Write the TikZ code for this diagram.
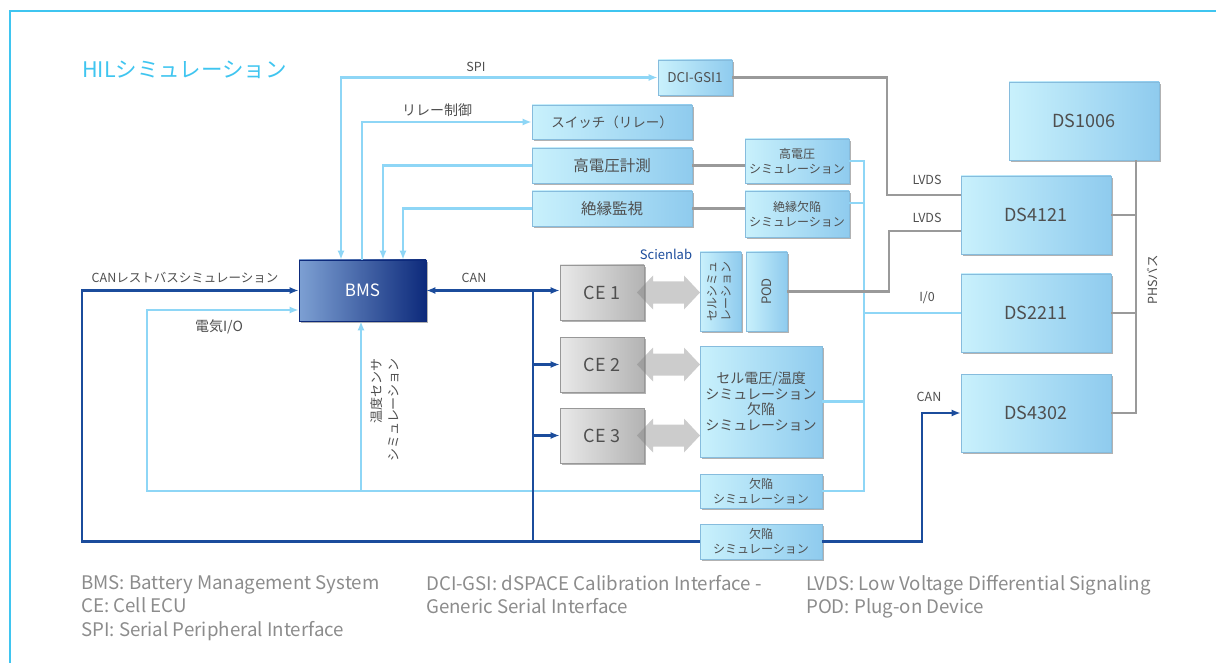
\documentclass[tikz,border=0pt]{standalone}
\usepackage{fontspec}
\setmainfont{Noto Sans CJK JP}
\usetikzlibrary{arrows.meta,shadows,positioning}

\definecolor{framecyan}{HTML}{3FC5F0}
\definecolor{lineblue}{HTML}{8ED6F6}
\definecolor{linegray}{HTML}{9A9A9A}
\definecolor{candark}{HTML}{1B4C9C}
\definecolor{boxa}{HTML}{C9F1FC}
\definecolor{boxb}{HTML}{8FCBEE}
\definecolor{boxedge}{HTML}{86BCDD}
\definecolor{bmsa}{HTML}{7DA0D3}
\definecolor{bmsb}{HTML}{0D2A7B}
\definecolor{cea}{HTML}{E9E9E9}
\definecolor{ceb}{HTML}{B3B3B3}
\definecolor{txtgray}{HTML}{4F4F4F}
\definecolor{legendgray}{HTML}{8C8C8C}

\newcommand{\fsz}[2]{\fontsize{#1}{#2}\selectfont}

\tikzset{
  dsbox/.style={draw=boxedge, line width=0.6pt, left color=boxa, right color=boxb,
    drop shadow={shadow xshift=1.5pt, shadow yshift=-2pt, opacity=0.3, fill=black},
    text=txtgray, inner sep=0pt, align=center, font=\fsz{14}{16}},
  bmsbox/.style={dsbox, draw=bmsb, left color=bmsa, right color=bmsb, text=white},
  cebox/.style={dsbox, draw=ceb!85!black, left color=cea, right color=ceb},
  lb/.style={draw=lineblue, line width=2.7pt},
  gl/.style={draw=linegray, line width=2.1pt},
  db/.style={draw=candark, line width=2.5pt},
  lbl/.style={text=txtgray, font=\fsz{12.5}{14}, inner sep=0pt},
  legend/.style={text=legendgray, font=\fsz{18.7}{23.5}, align=left, anchor=north west, inner sep=0pt},
  cellarrow/.style={fill=black!50, opacity=0.4},
  >={Latex[length=9pt,width=7pt]}
}

\begin{document}
\begin{tikzpicture}[x=1pt,y=-1pt]
\useasboundingbox (0,0) rectangle (1216,663);
\fill[white] (0,0) rectangle (1216,663);

\draw[framecyan, line width=2.4pt] (1216,11) -- (10,11) -- (10,663);
\node[text=framecyan, font=\fsz{21.5}{24}, anchor=west, inner sep=0pt] (title) at (82,70) {HILシミュレーション};

% boxes
\node[dsbox, minimum width=74pt, minimum height=35pt, font=\fsz{13.5}{16}] (dci) at (695,77.5) {DCI-GSI1};
\node[dsbox, minimum width=160pt, minimum height=34pt, font=\fsz{13.5}{16}] (sw) at (612,122) {スイッチ（リレー）};
\node[dsbox, minimum width=160pt, minimum height=35pt, font=\fsz{15.5}{18}] (hvm) at (612,165.5) {高電圧計測};
\node[dsbox, minimum width=160pt, minimum height=35pt, font=\fsz{15.5}{18}] (iso) at (612,208.5) {絶縁監視};
\node[dsbox, minimum width=104pt, minimum height=44pt, font=\fsz{12}{15}] (hvs) at (797,161) {高電圧\\シミュレーション};
\node[dsbox, minimum width=104pt, minimum height=46pt, font=\fsz{12}{15}] (isf) at (797,214) {絶縁欠陥\\シミュレーション};

\node[dsbox, minimum width=150pt, minimum height=78pt, font=\fsz{18}{20}] (ds1006) at (1084,121) {DS1006};
\node[dsbox, minimum width=150pt, minimum height=78pt, font=\fsz{18}{20}] (ds4121) at (1036,215) {DS4121};
\node[dsbox, minimum width=150pt, minimum height=78pt, font=\fsz{18}{20}] (ds2211) at (1036,313) {DS2211};
\node[dsbox, minimum width=150pt, minimum height=78pt, font=\fsz{18}{20}] (ds4302) at (1036,413) {DS4302};

\node[bmsbox, minimum width=127pt, minimum height=61pt, font=\fsz{17}{20}] (bms) at (362.5,290.5) {BMS};

\node[cebox, minimum width=84pt, minimum height=55pt, font=\fsz{18}{20}] (ce1) at (602,292.5) {CE 1};
\node[cebox, minimum width=84pt, minimum height=55pt, font=\fsz{18}{20}] (ce2) at (602,364.5) {CE 2};
\node[cebox, minimum width=84pt, minimum height=55pt, font=\fsz{18}{20}] (ce3) at (602,435.5) {CE 3};

\foreach \y in {292.5,364.5,435.5}
  \fill[cellarrow] (637,\y) -- (653,\y-17) -- (653,\y-11) -- (684,\y-11) -- (684,\y-17) -- (700,\y)
    -- (684,\y+17) -- (684,\y+11) -- (653,\y+11) -- (653,\y+17) -- cycle;

\node[dsbox, minimum width=41pt, minimum height=79pt, font=\fsz{12}{14}] (cellsim) at (720.5,291.5)
  {\rotatebox{90}{\begin{tabular}{@{}c@{}}セルシミュ\\レーション\end{tabular}}};
\node[dsbox, minimum width=41pt, minimum height=79pt, font=\fsz{13}{15}] (pod) at (766.5,291.5) {\rotatebox{90}{POD}};
\node[dsbox, minimum width=122pt, minimum height=111pt, font=\fsz{14}{15.7}] (cellbox) at (761,401.5)
  {セル電圧/温度\\シミュレーション\\欠陥\\シミュレーション};
\node[dsbox, minimum width=122pt, minimum height=34pt, font=\fsz{12}{15}] (flt1) at (761,491) {欠陥\\シミュレーション};
\node[dsbox, minimum width=122pt, minimum height=35pt, font=\fsz{12}{15}] (flt2) at (761,541.5) {欠陥\\シミュレーション};

% bend points
\coordinate (spix) at (341,0);
\coordinate (relx) at (362,0);
\coordinate (hvx) at (383,0);
\coordinate (isox) at (403,0);
\coordinate (busr) at (864,0);
\coordinate (lvdsa) at (887,150);
\coordinate (lvdsb) at (889,260);
\coordinate (phs) at (1136,0);
\coordinate (canl) at (82,400);
\coordinate (cand) at (533,0);
\coordinate (canr) at (922,480);
\coordinate (eio) at (147,400);
\coordinate (temp) at (361,0);

% light blue
\draw[lb,<->] (bms.north -| spix) |- (dci.west);
\draw[lb,->] (bms.north -| relx) |- (sw.west);
\draw[lb,->] (hvm.west) -| (bms.north -| hvx);
\draw[lb,->] (iso.west) -| (bms.north -| isox);
\draw[lb] (hvs.east) -| (flt1.east -| busr) -- (flt1.east);
\draw[lb] ([yshift=11pt]isf.east) -- +(15,0);
\draw[lb] (cellbox.east) -- (cellbox.east -| busr);
\draw[lb] (ds2211.west) -- (ds2211.west -| busr);
\draw[lb,->] (flt1.west) -| (eio) |- ([yshift=-19.5pt]bms.west);
\draw[lb,->] (flt1.west -| temp) -- (bms.south -| temp);

% gray
\draw[gl] (hvm.east) -- (hvm.east -| hvs.west);
\draw[gl] (iso.east) -- (iso.east -| isf.west);
\draw[gl] (dci.east) -| (lvdsa) |- ([yshift=20pt]ds4121.west);
\draw[gl] (pod.east) -| (lvdsb) |- ([yshift=-16pt]ds4121.west);
\draw[gl] (ds1006.south -| phs) |- (ds4302.east);
\draw[gl] (ds4121.east) -- (ds4121.east -| phs);
\draw[gl] (ds2211.east) -- (ds2211.east -| phs);

% CAN
\draw[db,->] (flt2.west) -| (canl) |- (bms.west);
\draw[db,->] (flt2.east) -| (canr) |- (ds4302.west);
\draw[db,<->] (bms.east) -- (bms.east -| ce1.west);
\draw[db] (bms.east -| cand) -- (flt2.west -| cand);
\draw[db,->] (ce2.west -| cand) -- (ce2.west);
\draw[db,->] (ce3.west -| cand) -- (ce3.west);

% labels
\node[lbl] (spilbl) at (476,67) {SPI};
\node[lbl, font=\fsz{14}{16}] (rellbl) at (437,110) {リレー制御};
\node[lbl] (canlbl) at (474,278) {CAN};
\node[lbl] (restlbl) at (185,278) {CANレストバスシミュレーション};
\node[lbl, font=\fsz{14}{16}] (eiolbl) at (219,327) {電気I/O};
\node[lbl, rotate=90, align=right, font=\fsz{13}{17}] (templbl) at (385,410) {温度センサ\\シミュレーション};
\node[lbl] (lvdslbla) at (927,180) {LVDS};
\node[lbl] (lvdslblb) at (927,218) {LVDS};
\node[lbl] (iolbl) at (927,298) {I/0};
\node[lbl] (canlblb) at (929,397) {CAN};
\node[lbl, rotate=90] (phslbl) at (1153,280) {PHSバス};
\node[lbl, text=candark, font=\fsz{13}{15}] (scilbl) at (666,254) {Scienlab};

% legend
\node[legend] (leg1) at (81,575) {BMS: Battery Management System\\CE: Cell ECU\\SPI: Serial Peripheral Interface};
\node[legend] (leg2) at (426,575) {DCI-GSI: dSPACE Calibration Interface -\\Generic Serial Interface};
\node[legend] (leg3) at (806,575) {LVDS: Low Voltage Differential Signaling\\POD: Plug-on Device};
\end{tikzpicture}
\end{document}
